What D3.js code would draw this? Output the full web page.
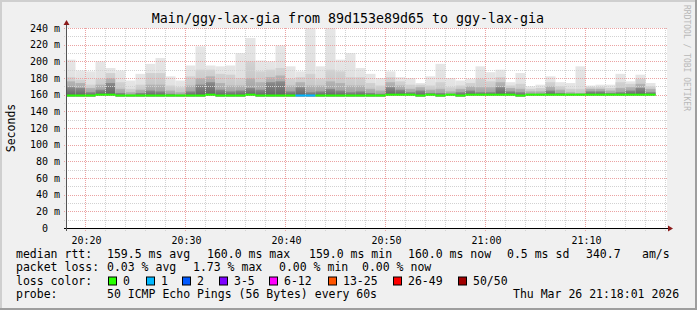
<!DOCTYPE html>
<html lang="en">
<head>
  <meta charset="UTF-8">
  <script src="https://cdn.jsdelivr.net/npm/d3@7"></script>
  <title>SmokePing ggy-lax-gia</title>
  <style>
    html, body { margin: 0; padding: 0; background: #f0f0f0; }
    svg { display: block; font-family: "DejaVu Sans Mono", monospace; }
  </style>
</head>
<body>
  <div id="wrapper"></div>
  <script>
    // one bar per minute, first bar starts 20:18
    const firstBar = new Date(2026, 2, 26, 20, 18)

    const medianMs = [159,159,159,160,160,159,159,159,159,159,159,159,159,159,160,159,159,159,160,159,
                      159,159,159,159,159,159,159,159,159,159,159,159,160,160,160,159,160,159,160,159,
                      160,160,160,160,160,159,160,160,160,160,160,160,160,160,160,160,160,160,160]
    const lossCount = [0,0,0,0,0,0,0,0,0,0,0,0,0,0,0,0,0,0,0,0,
                       0,0,0,1,1,0,0,0,0,0,0,0,0,0,0,0,0,0,0,0,
                       0,0,0,0,0,0,0,0,0,0,0,0,0,0,0,0,0,0,0]
    const maxMs = [202,189,188,200,192,189,177,185,197,204,182,177,195,218,195,194,195,210,228,201,
                   200,219,194,188,242,194,242,202,210,192,185,180,188,181,180,174,182,197,180,177,
                   179,194,187,190,175,186,170,172,182,175,174,194,171,172,172,185,176,184,174]
    const p90Ms = [181,178,172,179,186,175,167,172,186,186,171,169,182,190,190,185,184,180,200,188,
                   190,192,179,181,185,179,190,188,181,181,174,171,181,176,172,172,171,175,169,171,
                   174,179,176,181,171,173,167,168,175,170,167,167,169,169,168,175,173,179,170]
    const p75Ms = [176,174,168,172,180,167,163,166,172,172,165,163,171,180,182,174,171,171,180,175,
                   181,183,171,175,171,171,176,174,171,171,167,165,175,171,167,169,166,167,164,167,
                   170,169,169,175,168,167,164,164,170,166,163,162,167,167,165,168,169,173,167]
    const p60Ms = [169,168,163,166,174,162,160,162,165,164,161,160,164,172,175,166,164,165,168,166,
                   175,176,164,169,163,164,167,165,163,164,162,161,169,166,163,165,162,162,161,163,
                   165,163,163,169,164,163,161,161,165,162,161,161,164,164,162,163,165,168,163]
    const minMs = [158,158,158,159,159,158,158,158,158,158,158,158,158,158,159,158,158,158,159,158,
                   158,158,158,158,158,158,158,158,158,158,158,158,159,159,159,158,159,158,159,158,
                   159,159,159,159,159,158,159,159,159,159,159,159,159,159,159,159,159,159,159]

    const lossLabels = ["0", "1", "2", "3-5", "6-12", "13-25", "26-49", "50/50"]
    const lossColors = ["#26ff00", "#00b8ff", "#0059ff", "#7e00ff", "#ff00ff", "#ff5500", "#ff0000", "#a10000"]
    const yTicks = [0, 20, 40, 60, 80, 100, 120, 140, 160, 180, 200, 220, 240]

    const statsRtt = [["median rtt:", 16], ["159.5 ms avg", 107], ["160.0 ms max", 207], ["159.0 ms min", 309],
                      ["160.0 ms now", 408], ["0.5 ms sd", 507], ["340.7", 586], ["am/s", 642]]
    const statsLoss = [["packet loss:", 16], ["0.03 % avg", 107], ["1.73 % max", 193], ["0.00 % min", 279],
                       ["0.00 % now", 362]]
    const lossBoxX = [108, 146, 182, 219, 269, 328, 393, 458]
    const probeText = "50 ICMP Echo Pings (56 Bytes) every 60s"
    const stampText = "Thu Mar 26 21:18:01 2026"

    // smoke shades, outer (light) to core (dark): [top, bottom]
    const smokeShades = [["#e6e6e6", "#dcdcdc"], ["#d2d2d2", "#bebebe"], ["#b4b4b4", "#989898"], ["#8c8c8c", "#5e5e5e"]]

    const dimensions = {
      width: 697,
      height: 310,
      plotLeft: 67,
      plotRight: 667,
      plotTop: 28,
      plotBottom: 228
    }

    const bars = medianMs.map((m, i) => ({
      start: d3.timeMinute.offset(firstBar, i),
      end: d3.timeMinute.offset(firstBar, i + 1),
      median: m,
      loss: lossCount[i],
      bands: [maxMs[i], p90Ms[i], p75Ms[i], p60Ms[i]].map((hi, k) => ({lo: minMs[i], hi: hi, shade: k}))
    }))

    const xScale = d3.scaleTime()
      .domain([new Date(2026, 2, 26, 20, 18, 9), new Date(2026, 2, 26, 21, 18, 9)])
      .range([dimensions.plotLeft, dimensions.plotRight])

    const yScale = d3.scaleLinear()
      .domain([0, 240])
      .range([dimensions.plotBottom, dimensions.plotTop])

    const lossColor = n => n === 0 ? lossColors[0] : n === 1 ? lossColors[1] : n === 2 ? lossColors[2]
      : n <= 5 ? lossColors[3] : n <= 12 ? lossColors[4] : n <= 25 ? lossColors[5] : n <= 49 ? lossColors[6] : lossColors[7]

    const svg = d3.select("#wrapper")
      .append("svg")
      .attr("width", dimensions.width)
      .attr("height", dimensions.height)

    const defs = svg.append("defs")
    smokeShades.forEach((s, k) => {
      const g = defs.append("linearGradient").attr("id", "shade" + k)
        .attr("x1", 0).attr("y1", 0).attr("x2", 0).attr("y2", 1)
      g.append("stop").attr("offset", "0%").attr("stop-color", s[0])
      g.append("stop").attr("offset", "100%").attr("stop-color", s[1])
    })

    // frame
    svg.append("rect").attr("width", dimensions.width).attr("height", dimensions.height).attr("fill", "#f0f0f0")
    svg.append("rect").attr("x", 0).attr("y", 0).attr("width", dimensions.width).attr("height", 2).attr("fill", "#cfcfcf")
    svg.append("rect").attr("x", 0).attr("y", 0).attr("width", 2).attr("height", dimensions.height).attr("fill", "#cfcfcf")
    svg.append("rect").attr("x", 0).attr("y", dimensions.height - 2).attr("width", dimensions.width).attr("height", 2).attr("fill", "#9e9e9e")
    svg.append("rect").attr("x", dimensions.width - 2).attr("y", 0).attr("width", 2).attr("height", dimensions.height).attr("fill", "#9e9e9e")

    svg.append("text")
      .attr("x", 348).attr("y", 23)
      .attr("text-anchor", "middle")
      .style("font-size", "13.3px")
      .attr("fill", "#000")
      .text("Main/ggy-lax-gia from 89d153e89d65 to ggy-lax-gia")

    svg.append("text")
      .attr("transform", "translate(684,5) rotate(90)")
      .style("font-size", "8px")
      .attr("fill", "#b8b8b8")
      .text("RRDTOOL / TOBI OETIKER")

    svg.append("text")
      .attr("transform", `translate(15,${(dimensions.plotTop + dimensions.plotBottom) / 2}) rotate(-90)`)
      .attr("text-anchor", "middle")
      .style("font-size", "11.5px")
      .attr("fill", "#000")
      .text("Seconds")

    // canvas
    svg.append("rect")
      .attr("x", dimensions.plotLeft).attr("y", dimensions.plotTop)
      .attr("width", dimensions.plotRight - dimensions.plotLeft)
      .attr("height", dimensions.plotBottom - dimensions.plotTop)
      .attr("fill", "#ffffff")

    svg.append("clipPath").attr("id", "plotClip")
      .append("rect")
      .attr("x", dimensions.plotLeft).attr("y", dimensions.plotTop)
      .attr("width", dimensions.plotRight - dimensions.plotLeft)
      .attr("height", dimensions.plotBottom - dimensions.plotTop)

    // smoke
    const smoke = svg.append("g").attr("clip-path", "url(#plotClip)")
    const barGroups = smoke.selectAll("g")
      .data(bars)
      .enter()
      .append("g")

    barGroups.selectAll("rect")
      .data(d => d.bands.map(b => ({...b, start: d.start, end: d.end})))
      .enter()
      .append("rect")
      .attr("x", d => xScale(d.start))
      .attr("width", d => xScale(d.end) - xScale(d.start))
      .attr("y", d => yScale(d.hi))
      .attr("height", d => yScale(d.lo) - yScale(d.hi))
      .attr("fill", d => `url(#shade${d.shade})`)

    // grid on top of smoke, like rrdtool
    const grid = svg.append("g")
    const gridY = d3.range(10, 241, 10)
    grid.selectAll(".hgrid")
      .data(gridY)
      .enter()
      .append("line")
      .attr("x1", dimensions.plotLeft - 3)
      .attr("x2", dimensions.plotRight)
      .attr("y1", d => Math.round(yScale(d)) + 0.5)
      .attr("y2", d => Math.round(yScale(d)) + 0.5)
      .attr("stroke", d => d % 20 === 0 ? "#eba3a3" : "#d2d2d2")
      .attr("stroke-dasharray", "1,1")

    const minorTimes = d3.timeMinute.every(2).range(...xScale.domain())
    grid.selectAll(".vgrid")
      .data(minorTimes)
      .enter()
      .append("line")
      .attr("x1", d => Math.floor(xScale(d)) + 0.5)
      .attr("x2", d => Math.floor(xScale(d)) + 0.5)
      .attr("y1", dimensions.plotTop)
      .attr("y2", dimensions.plotBottom + 3)
      .attr("stroke", d => d.getMinutes() % 10 === 0 ? "#eba3a3" : "#d2d2d2")
      .attr("stroke-dasharray", "1,1")

    // median line coloured by loss
    svg.append("g").attr("clip-path", "url(#plotClip)")
      .selectAll("rect")
      .data(bars)
      .enter()
      .append("rect")
      .attr("x", d => xScale(d.start))
      .attr("width", d => xScale(d.end) - xScale(d.start))
      .attr("y", d => yScale(d.median) - 1)
      .attr("height", 2)
      .attr("fill", d => lossColor(d.loss))

    // axes
    svg.append("line")
      .attr("x1", dimensions.plotLeft - 3).attr("x2", dimensions.plotRight + 2)
      .attr("y1", dimensions.plotBottom + 0.5).attr("y2", dimensions.plotBottom + 0.5)
      .attr("stroke", "#000")
    svg.append("line")
      .attr("x1", dimensions.plotLeft - 0.5).attr("x2", dimensions.plotLeft - 0.5)
      .attr("y1", dimensions.plotBottom + 3).attr("y2", dimensions.plotTop - 4)
      .attr("stroke", "#555")
    svg.append("path")
      .attr("d", `M${dimensions.plotRight + 1},${dimensions.plotBottom - 2.5} L${dimensions.plotRight + 6},${dimensions.plotBottom + 0.5} L${dimensions.plotRight + 1},${dimensions.plotBottom + 3.5} Z`)
      .attr("fill", "#8b1a1a")
    svg.append("path")
      .attr("d", `M${dimensions.plotLeft - 3.5},${dimensions.plotTop - 3} L${dimensions.plotLeft - 0.5},${dimensions.plotTop - 8} L${dimensions.plotLeft + 2.5},${dimensions.plotTop - 3} Z`)
      .attr("fill", "#8b1a1a")

    svg.selectAll(".ylab")
      .data(yTicks)
      .enter()
      .append("text")
      .attr("x", d => d === 0 ? 48 : 60)
      .attr("y", d => yScale(d) + 3.5)
      .attr("text-anchor", "end")
      .style("font-size", "10px")
      .attr("fill", "#000")
      .text(d => d === 0 ? "0" : d + " m")

    const xAxis = svg.append("g")
      .attr("transform", `translate(0,${dimensions.plotBottom})`)
      .call(d3.axisBottom(xScale)
        .ticks(d3.timeMinute.every(10))
        .tickFormat(d3.timeFormat("%H:%M"))
        .tickSize(0)
        .tickPadding(4))
    xAxis.select(".domain").remove()
    xAxis.selectAll("text")
      .attr("y", 8.5)
      .attr("x", 0.5)
      .style("font-family", "DejaVu Sans Mono")
      .style("font-size", "10px")
      .attr("fill", "#000")

    // legend
    const legend = svg.append("g").style("font-size", "11.5px").attr("fill", "#000")
    const rows = [257.5, 271, 284.5, 297.5]

    legend.selectAll(".rtt")
      .data(statsRtt).enter().append("text")
      .attr("x", d => d[1]).attr("y", rows[0]).text(d => d[0])
    legend.selectAll(".loss")
      .data(statsLoss).enter().append("text")
      .attr("x", d => d[1]).attr("y", rows[1]).text(d => d[0])
    legend.append("text").attr("x", 16).attr("y", rows[2]).text("loss color:")
    const lossItems = legend.selectAll(".lossitem")
      .data(lossLabels).enter().append("g")
    lossItems.append("rect")
      .attr("x", (d, i) => lossBoxX[i] + 0.5)
      .attr("y", rows[2] - 7.5)
      .attr("width", 8).attr("height", 8)
      .attr("fill", (d, i) => lossColors[i])
      .attr("stroke", "#000")
    lossItems.append("text")
      .attr("x", (d, i) => lossBoxX[i] + 15)
      .attr("y", rows[2])
      .text(d => d)
    legend.append("text").attr("x", 16).attr("y", rows[3]).text("probe:")
    legend.append("text").attr("x", 107).attr("y", rows[3]).text(probeText)
    legend.append("text").attr("x", 513).attr("y", rows[3]).text(stampText)
  </script>
</body>
</html>
